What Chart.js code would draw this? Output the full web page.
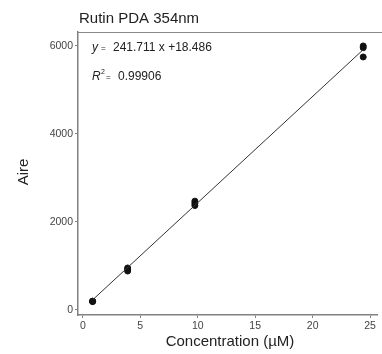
<!DOCTYPE html>
<html>
<head>
<meta charset="utf-8">
<script src="https://cdn.jsdelivr.net/npm/chart.js@4.4.1/dist/chart.umd.min.js"></script>
<style>
  html, body { margin: 0; padding: 0; background: #fff; }
  #wrap { width: 382px; height: 354px; position: relative; }
</style>
</head>
<body>
<div id="wrap"><canvas id="chart" width="382" height="354"></canvas></div>
<script>
// ===== Data =====
const concX = [0.85, 0.85, 0.85, 3.9, 3.9, 3.9, 9.75, 9.75, 9.75, 24.4, 24.4, 24.4];
const aireY = [185, 190, 195, 880, 920, 950, 2370, 2420, 2470, 5750, 5960, 6000];
const fitX = [0.85, 24.4];
const fitY = [224, 5916];
const xTicks = [0, 5, 10, 15, 20, 25];
const yTicks = [0, 2000, 4000, 6000];
const titleText = "Rutin PDA 354nm";
const xTitle = "Concentration (\u00B5M)";
const yTitle = "Aire";
const eqText = "241.711 x +18.486";
const r2Text = "0.99906";

const FONT = "'Liberation Sans', Arial, sans-serif";
const ctx = document.getElementById("chart").getContext("2d");

// ===== Text overlay =====
const textPlugin = {
  id: "texts",
  afterDraw(chart) {
    const c = chart.ctx;
    const a = chart.chartArea;
    c.save();
    // top border of the plot box
    c.strokeStyle = "#888";
    c.lineWidth = 1;
    c.beginPath();
    c.moveTo(a.left, a.top + 0.5);
    c.lineTo(chart.width, a.top + 0.5);
    c.stroke();

    c.fillStyle = "#222";
    c.textBaseline = "alphabetic";
    c.textAlign = "left";
    c.font = "15px " + FONT;
    c.fillText(titleText, 79, 23);

    c.textAlign = "center";
    c.fillText(xTitle, 230, 346);

    c.save();
    c.translate(28, 172);
    c.rotate(-Math.PI / 2);
    c.fillText(yTitle, 0, 0);
    c.restore();

    // equation
    c.textAlign = "left";
    c.font = "italic 12px " + FONT;
    c.fillText("y", 92, 51);
    c.font = "8px " + FONT;
    c.fillText("=", 101, 51);
    c.font = "12px " + FONT;
    c.fillText(eqText, 113, 51);
    c.font = "italic 12px " + FONT;
    c.fillText("R", 92, 80);
    c.font = "7px " + FONT;
    c.fillText("2", 101, 74);
    c.font = "8px " + FONT;
    c.fillText("=", 106, 80);
    c.font = "12px " + FONT;
    c.fillText(r2Text, 118, 80);
    c.restore();
  }
};

// ===== Chart =====
new Chart(ctx, {
  data: {
    datasets: [
      {
        type: "line",
        data: fitX.map((x, i) => ({ x, y: fitY[i] })),
        borderColor: "#333",
        borderWidth: 1,
        pointRadius: 0,
        fill: false
      },
      {
        type: "scatter",
        data: concX.map((x, i) => ({ x, y: aireY[i] })),
        backgroundColor: "#111",
        borderColor: "#111",
        pointRadius: 3
      }
    ]
  },
  options: {
    responsive: false,
    animation: false,
    layout: { padding: { left: 0, top: 32, right: 0, bottom: 0 } },
    plugins: { legend: { display: false }, tooltip: { enabled: false } },
    scales: {
      x: {
        type: "linear",
        min: -0.42,
        max: 25.6,
        afterFit(s) { s.height = 39; },
        afterBuildTicks(s) { s.ticks = xTicks.map(v => ({ value: v })); },
        border: { display: true, color: "#808080", width: 1.5 },
        grid: { drawOnChartArea: false, tickLength: 3, color: "#808080" },
        ticks: { color: "#444", font: { family: FONT, size: 10.5 }, padding: 2, callback: v => String(v) }
      },
      y: {
        type: "linear",
        min: -120,
        max: 6318,
        afterFit(s) { s.width = 78; },
        afterBuildTicks(s) { s.ticks = yTicks.map(v => ({ value: v })); },
        border: { display: true, color: "#808080", width: 1.5 },
        grid: { drawOnChartArea: false, tickLength: 3, color: "#808080" },
        ticks: { color: "#444", font: { family: FONT, size: 10.5 }, padding: 2, callback: v => String(v) }
      }
    }
  },
  plugins: [textPlugin]
});
</script>
</body>
</html>
